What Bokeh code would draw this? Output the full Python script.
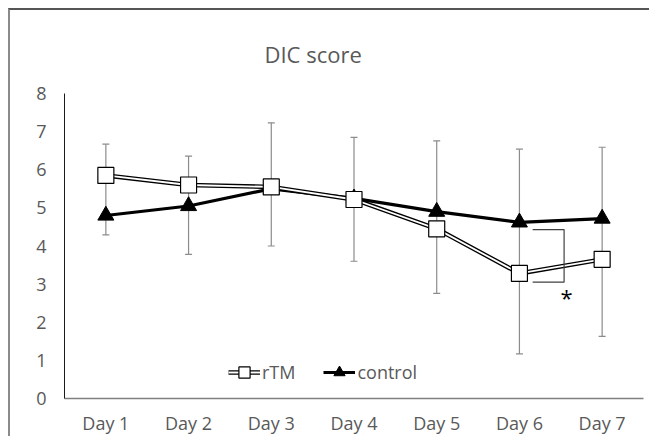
from bokeh.plotting import figure
from bokeh.models import (ColumnDataSource, Whisker, TeeHead, FixedTicker, Range1d,
                          Legend, LegendItem, Label)
from bokeh.embed import file_html
from bokeh.resources import INLINE

days = ["Day 1", "Day 2", "Day 3", "Day 4", "Day 5", "Day 6", "Day 7"]
rtm = [5.85, 5.60, 5.55, 5.22, 4.45, 3.28, 3.65]
control = [4.80, 5.05, 5.50, 5.25, 4.90, 4.62, 4.72]
err_upper = [6.67, 6.36, 7.23, 6.85, 6.76, 6.54, 6.59]
err_lower = [4.29, 3.78, 4.00, 3.60, 2.76, 1.17, 1.63]
y_ticks = [0, 1, 2, 3, 4, 5, 6, 7, 8]
sig_day = "Day 6"
sig_top = 4.43
sig_bottom = 3.05
sig_mark = "*"

FONT = "Open Sans"
GREY = "#595959"

xs = [i + 0.5 for i in range(len(days))]
src = ColumnDataSource(dict(x=xs, rtm=rtm, control=control,
                            upper=err_upper, lower=err_lower))

p = figure(width=641, height=428, output_backend="svg", toolbar_location=None,
           x_range=Range1d(0, len(days)), y_range=Range1d(0, 8),
           min_border_left=54, min_border_top=83, min_border_right=8,
           min_border_bottom=40)
p.styles = {"margin-left": "8px", "margin-top": "8px",
            "border-top": "2px solid #555555", "border-left": "2px solid #8a8a8a"}
p.outline_line_color = None
p.xgrid.visible = False
p.ygrid.visible = False

p.title.text = "DIC score"
p.title.align = "left"
p.title.offset = 200
p.title.text_font = FONT
p.title.text_font_size = "22px"
p.title.text_font_style = "normal"
p.title.text_color = GREY
p.title.standoff = 50

p.xaxis.ticker = FixedTicker(ticks=xs)
p.xaxis.major_label_overrides = {x: d for x, d in zip(xs, days)}
p.yaxis.ticker = FixedTicker(ticks=y_ticks)
for ax in (p.xaxis, p.yaxis):
    ax.major_tick_out = 0
    ax.major_tick_in = 0
    ax.minor_tick_out = 0
    ax.minor_tick_in = 0
    ax.major_label_text_font = FONT
    ax.major_label_text_font_size = "18px"
    ax.major_label_text_color = GREY
p.xaxis.axis_line_color = "#808080"
p.xaxis.axis_line_width = 1.5
p.yaxis.axis_line_color = "#1a1a1a"
p.yaxis.axis_line_width = 1
p.xaxis.major_label_standoff = 12
p.yaxis.major_label_standoff = 18

# error bars
wh = Whisker(source=src, base="x", upper="upper", lower="lower",
             line_color="#8c8c8c", line_width=1.2,
             upper_head=TeeHead(size=7, line_color="#8c8c8c", line_width=1.2),
             lower_head=TeeHead(size=7, line_color="#8c8c8c", line_width=1.2))
p.add_layout(wh)

# control
c_line = p.line("x", "control", source=src, line_color="black", line_width=3.2)
c_mark = p.scatter("x", "control", source=src, marker="triangle", size=16,
                   fill_color="black", line_color="black")

# rTM double line
r_outer = p.line("x", "rtm", source=src, line_color="black", line_width=4.5)
r_inner = p.line("x", "rtm", source=src, line_color="white", line_width=1.8)
r_mark = p.scatter("x", "rtm", source=src, marker="square", size=16,
                   fill_color="white", line_color="black", line_width=1.2)

# significance bracket
i6 = days.index(sig_day) + 0.5
p.line([i6 + 0.16, i6 + 0.54, i6 + 0.54, i6 + 0.16],
       [sig_top, sig_top, sig_bottom, sig_bottom],
       line_color="#404040", line_width=1.2)
p.add_layout(Label(x=i6 + 0.57, y=sig_bottom, text=sig_mark,
                   text_font=FONT, text_font_size="22px",
                   text_color="black", text_align="center",
                   text_baseline="middle", y_offset=-15))

legend = Legend(items=[LegendItem(label="rTM", renderers=[r_outer, r_inner, r_mark]),
                       LegendItem(label="control", renderers=[c_line, c_mark])],
                location=(164, 12), orientation="horizontal",
                glyph_width=32, glyph_height=28, label_standoff=2, spacing=28,
                padding=0, margin=0, background_fill_alpha=0, border_line_alpha=0,
                label_text_font=FONT, label_text_font_size="18px",
                label_text_color=GREY)
p.add_layout(legend)

open("out.html", "w").write(file_html(p, INLINE))
